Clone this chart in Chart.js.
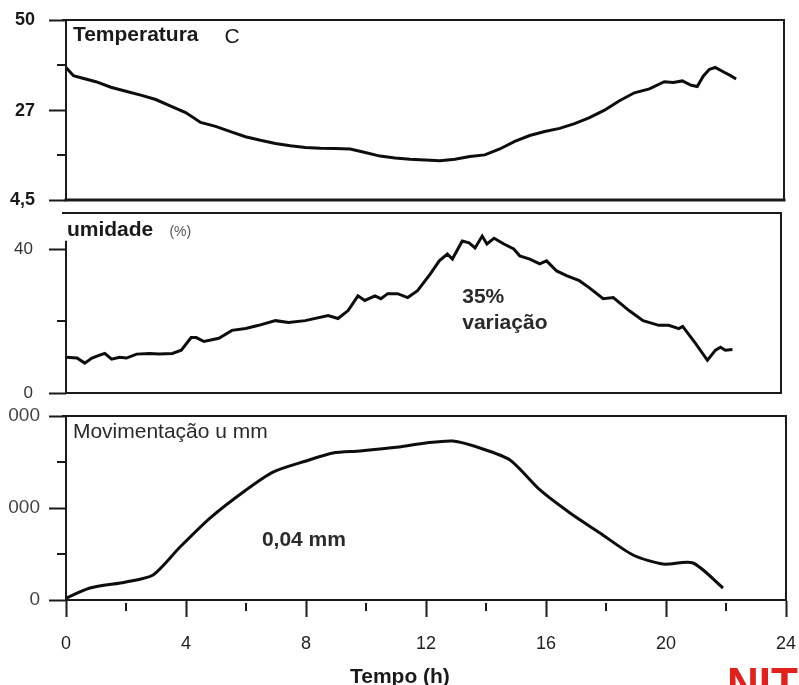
<!DOCTYPE html>
<html>
<head>
<meta charset="utf-8">
<script src="https://cdn.jsdelivr.net/npm/chart.js@4.4.1/dist/chart.umd.min.js"></script>
<style>
	html, body { margin:0; padding:0; background:#fff; overflow:hidden; }
	#wrap { position:relative; width:799px; height:685px; }
	#wrap canvas { position:absolute; left:0; top:0; }
</style>
</head>
<body>
<div id="wrap">
	<canvas id="tempChart" width="799" height="685"></canvas>
	<canvas id="umidChart" width="799" height="685"></canvas>
	<canvas id="movChart" width="799" height="685"></canvas>
</div>
<script>
// temperatura (C)
var tempHours = [0, 0.25, 0.5, 1, 1.5, 2, 2.5, 3, 3.5, 4, 4.5, 5, 5.5, 6, 6.5, 7, 7.5, 8, 8.5, 9, 9.5, 10, 10.5, 11, 11.5, 12, 12.5, 13, 13.5, 14, 14.5, 15, 15.5, 16, 16.5, 17, 17.5, 18, 18.5, 19, 19.5, 20, 20.3, 20.6, 20.9, 21.1, 21.3, 21.5, 21.7, 22, 22.2, 22.4];
var tempValues = [38.0, 35.9, 35.4, 34.4, 33.0, 32.0, 31.0, 29.9, 28.2, 26.6, 24.1, 23.1, 21.8, 20.5, 19.6, 18.8, 18.2, 17.8, 17.6, 17.5, 17.4, 16.5, 15.6, 15.1, 14.8, 14.6, 14.4, 14.8, 15.5, 15.9, 17.4, 19.3, 20.8, 21.8, 22.6, 23.8, 25.3, 27.2, 29.6, 31.6, 32.6, 34.4, 34.2, 34.6, 33.5, 33.2, 35.8, 37.5, 38.0, 36.8, 36.0, 35.1];

// umidade (%)
var umidHours = [0, 0.37, 0.63, 0.87, 1.13, 1.3, 1.53, 1.8, 2.03, 2.37, 2.8, 3.13, 3.57, 3.87, 4.2, 4.37, 4.63, 5.13, 5.57, 6.03, 6.47, 7.03, 7.47, 8.03, 8.8, 9.13, 9.47, 9.8, 10.03, 10.37, 10.57, 10.8, 11.13, 11.47, 11.8, 12.23, 12.53, 12.8, 12.97, 13.3, 13.53, 13.73, 13.97, 14.13, 14.37, 14.7, 15.03, 15.23, 15.57, 15.9, 16.13, 16.47, 16.8, 17.23, 17.57, 18.03, 18.37, 18.9, 19.37, 19.9, 20.23, 20.57, 20.7, 21.13, 21.53, 21.8, 21.97, 22.13, 22.37];
var umidValues = [9.9, 9.7, 8.3, 9.7, 10.5, 11.0, 9.4, 9.9, 9.7, 10.8, 11.0, 10.8, 11.0, 11.9, 15.4, 15.4, 14.3, 15.2, 17.4, 17.9, 18.8, 20.1, 19.6, 20.1, 21.5, 20.7, 22.9, 27.0, 25.7, 27.0, 26.2, 27.6, 27.6, 26.5, 28.4, 33.1, 36.7, 38.6, 37.2, 42.2, 41.7, 40.3, 43.6, 41.4, 43.0, 41.4, 40.0, 38.1, 37.2, 35.9, 36.7, 33.9, 32.6, 31.2, 29.2, 26.2, 26.5, 22.9, 20.1, 18.8, 18.8, 17.9, 18.5, 13.8, 9.1, 11.9, 12.7, 11.9, 12.1];

// movimentacao
var movHours = [0, 0.8, 2, 2.9, 3.8, 4.8, 6, 6.9, 8, 8.9, 9.8, 11.1, 12, 12.9, 13.8, 14.8, 15.8, 16.8, 17.8, 18.9, 19.9, 20.9, 21.9];
var movValues = [20, 130, 196, 272, 576, 891, 1196, 1391, 1511, 1598, 1620, 1663, 1707, 1728, 1652, 1522, 1196, 946, 728, 489, 391, 402, 130];

// ticks
var hourTicks = [0, 4, 8, 12, 16, 20, 24];
var hourMinorTicks = [2, 6, 10, 14, 18, 22];
var tempTicks = [4.5, 27, 50];
var tempTickLabels = ["4,5", "27", "50"];
var tempMinorTicks = [15.875, 38.625];
var umidTicks = [0, 40];
var umidTickLabels = ["0", "40"];
var umidMinorTicks = [20];
var movTicks = [0, 1000, 2000];
var movTickLabels = ["0", "1000", "2000"];
var movMinorTicks = [500, 1500];

var FONT = "'Liberation Sans', Arial, sans-serif";
var INK = "#1a1a1a";

function points(hours, values){
	var out = [];
	for (var i = 0; i < hours.length; i++) out.push({x: hours[i], y: values[i]});
	return out;
}

// caixa, ticks menores, textos
var panelPlugin = {
	id: 'panel',
	beforeDraw: function(chart, args, opts){
		if (opts.clipLeft) {
			var ctx = chart.ctx;
			ctx.save();
			ctx.beginPath();
			ctx.rect(opts.clipLeft, 0, chart.width, chart.height);
			ctx.clip();
			chart.$clipped = true;
		}
	},
	beforeDatasetsDraw: function(chart){
		if (chart.$clipped) { chart.ctx.restore(); chart.$clipped = false; }
	},
	afterDraw: function(chart, args, opts){
		var ctx = chart.ctx, a = chart.chartArea;
		var xs = chart.scales.x, ys = chart.scales.y;
		ctx.save();
		ctx.strokeStyle = INK;
		ctx.lineCap = 'square';
		ctx.lineWidth = 2;
		ctx.beginPath();
		ctx.moveTo(a.left - 3, a.top); ctx.lineTo(a.right, a.top);
		ctx.moveTo(a.right, a.top); ctx.lineTo(a.right, a.bottom);
		var lt = opts.leftFrom != null ? ys.getPixelForValue(opts.leftFrom) : a.top;
		ctx.moveTo(a.left, lt); ctx.lineTo(a.left, a.bottom);
		ctx.stroke();
		ctx.lineWidth = opts.bottomWidth || 2;
		ctx.beginPath();
		ctx.moveTo(a.left, a.bottom); ctx.lineTo(a.right, a.bottom);
		ctx.stroke();

		ctx.lineWidth = 2;
		ctx.lineCap = 'butt';
		ctx.beginPath();
		(opts.minorY || []).forEach(function(v){
			var y = Math.round(ys.getPixelForValue(v));
			ctx.moveTo(a.left - 9, y); ctx.lineTo(a.left, y);
		});
		(opts.minorX || []).forEach(function(v){
			var x = Math.round(xs.getPixelForValue(v));
			ctx.moveTo(x, a.bottom + 3); ctx.lineTo(x, a.bottom + 11);
		});
		ctx.stroke();

		ctx.textBaseline = 'middle';
		(opts.texts || []).forEach(function(t){
			ctx.font = t.font;
			ctx.fillStyle = t.color || INK;
			ctx.textAlign = t.align || 'left';
			ctx.fillText(t.text, xs.getPixelForValue(t.x), ys.getPixelForValue(t.y));
		});
		ctx.restore();
	}
};

function lineSet(data, tension){
	return {
		data: data,
		borderColor: '#0d0d0d',
		borderWidth: 3,
		pointRadius: 0,
		tension: tension,
		fill: false
	};
}

function yAxis(min, max, ticks, labels, font, color, padding){
	return {
		type: 'linear',
		min: min,
		max: max,
		afterBuildTicks: function(axis){ axis.ticks = ticks.map(function(v){ return {value: v}; }); },
		afterFit: function(axis){ axis.width = 66; axis.paddingTop = 0; axis.paddingBottom = 0; },
		grid: { drawOnChartArea: false, drawTicks: true, tickLength: 17, tickWidth: 2, tickColor: INK },
		border: { display: false },
		ticks: {
			padding: padding,
			font: font,
			color: color,
			autoSkip: false,
			callback: function(v, i){ return labels[i]; }
		}
	};
}

function hiddenX(){
	return { type: 'linear', min: 0, max: 24, display: false };
}

function baseOptions(padding, scales, panel){
	return {
		responsive: false,
		animation: false,
		events: [],
		layout: { padding: padding },
		scales: scales,
		plugins: {
			legend: { display: false },
			tooltip: { enabled: false },
			panel: panel
		}
	};
}

var conf_temp = {
	type: 'line',
	data: { datasets: [lineSet(points(tempHours, tempValues), 0)] },
	options: baseOptions(
		{ top: 20, bottom: 485, left: 0, right: 15 },
		{
			x: hiddenX(),
			y: yAxis(4.5, 50, tempTicks, tempTickLabels, { family: FONT, size: 18, weight: 'bold' }, INK, 14)
		},
		{
			bottomWidth: 3,
			minorY: tempMinorTicks,
			texts: [
				{ text: 'Temperatura', x: 0.23, y: 46.2, font: 'bold 21px ' + FONT },
				{ text: 'C', x: 5.3, y: 45.6, font: '21px ' + FONT }
			]
		}
	),
	plugins: [panelPlugin]
};

var conf_umid = {
	type: 'line',
	data: { datasets: [lineSet(points(umidHours, umidValues), 0)] },
	options: baseOptions(
		{ top: 213, bottom: 292, left: 0, right: 18 },
		{
			x: hiddenX(),
			y: yAxis(0, 50, umidTicks, umidTickLabels, { family: FONT, size: 17 }, '#333', 16)
		},
		{
			leftFrom: 42,
			minorY: umidMinorTicks,
			texts: [
				{ text: 'umidade', x: 0.03, y: 45.2, font: 'bold 21px ' + FONT },
				{ text: '(%)', x: 3.47, y: 44.6, font: '14px ' + FONT, color: '#555' },
				{ text: '35%', x: 13.3, y: 26.5, font: 'bold 21px ' + FONT, color: '#2a2a2a' },
				{ text: 'variação', x: 13.3, y: 19.3, font: 'bold 21px ' + FONT, color: '#2a2a2a' }
			]
		}
	),
	plugins: [panelPlugin]
};

var conf_mov = {
	type: 'line',
	data: { datasets: [lineSet(points(movHours, movValues), 0.25)] },
	options: baseOptions(
		{ top: 416, bottom: 0, left: 0, right: 13 },
		{
			x: {
				type: 'linear',
				min: 0,
				max: 24,
				afterBuildTicks: function(axis){ axis.ticks = hourTicks.map(function(v){ return {value: v}; }); },
				afterFit: function(axis){ axis.height = 85; axis.paddingLeft = 0; axis.paddingRight = 0; },
				grid: { drawOnChartArea: false, drawTicks: true, tickLength: 17, tickWidth: 2, tickColor: INK },
				border: { display: true, color: INK, width: 2 },
				ticks: { padding: 16, font: { family: FONT, size: 18 }, color: '#222', maxRotation: 0, autoSkip: false }
			},
			y: yAxis(0, 2000, movTicks, movTickLabels, { family: FONT, size: 19 }, '#444', 9)
		},
		{
			clipLeft: 8,
			minorY: movMinorTicks,
			minorX: hourMinorTicks,
			texts: [
				{ text: 'Movimentação u mm', x: 0.23, y: 1826, font: '21px ' + FONT, color: '#2a2a2a' },
				{ text: '0,04 mm', x: 6.53, y: 652, font: 'bold 21px ' + FONT, color: '#2a2a2a' },
				{ text: 'Tempo (h)', x: 11.13, y: -840, font: 'bold 21px ' + FONT, align: 'center' },
				{ text: 'NIT', x: 22.03, y: -945, font: 'bold 44px ' + FONT, color: '#e3211c' }
			]
		}
	),
	plugins: [panelPlugin]
};

var temp_chart = new Chart(document.getElementById('tempChart').getContext('2d'), conf_temp);
var umid_chart = new Chart(document.getElementById('umidChart').getContext('2d'), conf_umid);
var mov_chart = new Chart(document.getElementById('movChart').getContext('2d'), conf_mov);
</script>
</body>
</html>
